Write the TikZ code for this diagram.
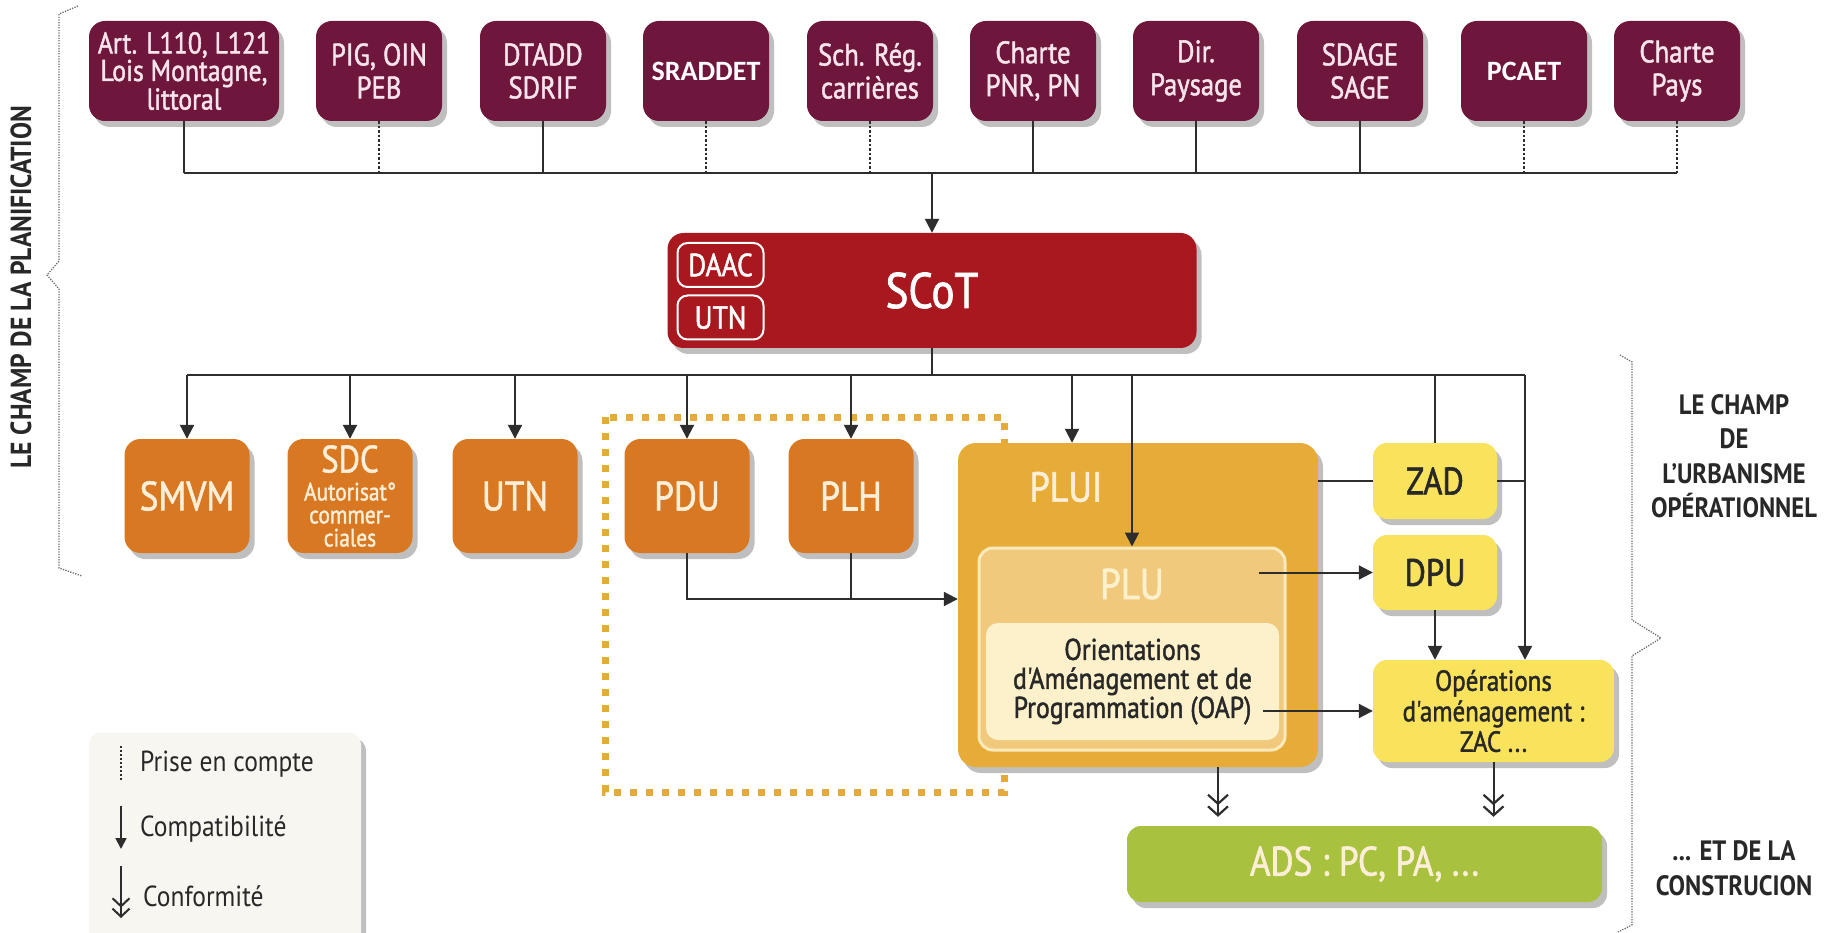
\documentclass[tikz,border=0pt]{standalone}
\usepackage{fontspec}
\setmainfont{PT Sans}[FakeStretch=0.88]
\newfontfamily\med{PT Sans}[FakeStretch=0.86,FakeBold=1.5]
\newfontfamily\calib{Carlito}
\usetikzlibrary{arrows.meta,shadows}
\definecolor{maroon}{RGB}{110,22,60}
\definecolor{toptxt}{RGB}{245,228,235}
\definecolor{scotred}{RGB}{168,24,30}
\definecolor{orng}{RGB}{216,120,34}
\definecolor{orntxt}{RGB}{252,238,215}
\definecolor{goldc}{RGB}{231,172,55}
\definecolor{dotc}{RGB}{228,170,60}
\definecolor{pluc}{RGB}{240,201,125}
\definecolor{oapc}{RGB}{252,241,203}
\definecolor{yel}{RGB}{249,226,92}
\definecolor{grn}{RGB}{168,194,64}
\definecolor{linec}{RGB}{45,45,45}
\definecolor{legbg}{RGB}{248,246,240}
\definecolor{txtdark}{RGB}{40,40,40}
\definecolor{bracec}{RGB}{110,110,110}
\tikzset{
  shd/.style={drop shadow={shadow xshift=5pt,shadow yshift=-6pt,opacity=0.25,fill=black}},
  topbox/.style={shd,fill=maroon,rounded corners=16pt,minimum width=126pt,minimum height=100pt,inner sep=0pt,align=center,text=toptxt,font=\med\fontsize{31}{33}\selectfont},
  ornbox/.style={shd,fill=orng,rounded corners=16pt,minimum width=125pt,minimum height=114pt,inner sep=0pt,align=center,text=orntxt,font=\med\fontsize{41}{42}\selectfont},
  yelbox/.style={shd,fill=yel,rounded corners=14pt,minimum width=124pt,inner sep=0pt,align=center,text=txtdark},
  ln/.style={draw=linec,line width=2pt},
  dsh/.style={draw=linec,line width=2pt,dash pattern=on 2.5pt off 2pt},
  arr/.style={draw=linec,line width=2pt,-{Triangle[length=14pt,width=14pt]}},
  dbl/.style={draw=linec,line width=2pt,-{Straight Barb[length=9pt,width=20pt,line width=2.2pt] Straight Barb[length=9pt,width=20pt,line width=2.2pt]}},
  bracel/.style={draw=bracec,line width=1.3pt,dash pattern=on 1.3pt off 1.3pt},
  sidetxt/.style={align=center,text=txtdark,font=\bfseries\fontsize{28}{34.5}\selectfont},
  legtxt/.style={anchor=west,text=txtdark,font=\fontsize{29}{30}\selectfont,inner sep=0pt}
}
\begin{document}
\begin{tikzpicture}[x=1pt,y=-1pt]
\useasboundingbox (0,0) rectangle (1837,933);
\fill[white] (0,0) rectangle (1837,933);

% dotted frame
\draw[draw=dotc,line width=7pt,dash pattern=on 7pt off 9pt] (605,417) rectangle (1004,792);

% top row
\node[topbox,minimum width=190pt,font=\med\fontsize{30}{27.5}\selectfont] (art) at (184,71) {Art. L110, L121\\Lois Montagne,\\littoral};
\node[topbox] (pig) at (379,71) {PIG, OIN\\PEB};
\node[topbox] (dtadd) at (543,71) {DTADD\\SDRIF};
\node[topbox,text=white,font=\calib\bfseries\fontsize{28}{30}\selectfont] (sraddet) at (706,71) {SRADDET};
\node[topbox] (sch) at (870,71) {Sch. Rég.\\carrières};
\node[topbox] (pnr) at (1033,71) {Charte\\PNR, PN};
\node[topbox] (dir) at (1196,71) {Dir.\\Paysage};
\node[topbox] (sdage) at (1360,71) {SDAGE\\SAGE};
\node[topbox,text=white,font=\calib\bfseries\fontsize{28}{30}\selectfont] (pcaet) at (1524,71) {PCAET};
\node[topbox] (pays) at (1677,71) {Charte\\Pays};

% SCoT
\node[shd,fill=scotred,rounded corners=16pt,minimum width=529pt,minimum height=115pt,inner sep=0pt,text=white,font=\med\fontsize{50}{52}\selectfont] (scot) at (932,290.5) {SCoT};
\node[draw=white,line width=2pt,rounded corners=10pt,minimum width=86pt,minimum height=44pt,inner sep=0pt,text=white,font=\med\fontsize{32}{32}\selectfont] (daac) at (720.5,265) {DAAC};
\node[draw=white,line width=2pt,rounded corners=10pt,minimum width=86pt,minimum height=44pt,inner sep=0pt,text=white,font=\med\fontsize{32}{32}\selectfont] (utns) at (720.5,317.5) {UTN};

% orange row
\node[ornbox] (smvm) at (187,496) {SMVM};
\node[ornbox,font=\med\fontsize{25}{23}\selectfont] (sdc) at (350,496) {{\fontsize{38}{38}\selectfont SDC}\\[5pt]Autorisat°\\commer-\\ciales};
\node[ornbox] (utn) at (515,496) {UTN};
\node[ornbox] (pdu) at (687,496) {PDU};
\node[ornbox] (plh) at (851,496) {PLH};

% PLUI / PLU / OAP
\node[shd,fill=goldc,rounded corners=18pt,minimum width=360pt,minimum height=324pt,inner sep=0pt] (plui) at (1138,605) {};
\node[text=orntxt,font=\med\fontsize{42}{44}\selectfont] (pluitxt) at (1066,487) {PLUI};
\node[fill=pluc,draw=oapc!80!pluc,line width=3pt,rounded corners=14pt,minimum width=306pt,minimum height=202pt,inner sep=0pt] (plu) at (1132,649) {};
\node[text=oapc,font=\med\fontsize{43}{44}\selectfont] (plutxt) at (1132,584) {PLU};
\node[fill=oapc,rounded corners=12pt,minimum width=293pt,minimum height=117pt,inner sep=0pt,align=center,text=txtdark,font=\med\fontsize{30}{29}\selectfont] (oap) at (1132.5,681.5) {Orientations\\d'Aménagement et de\\Programmation (OAP)};

% yellow boxes
\node[yelbox,minimum height=76pt,font=\med\fontsize{38}{38}\selectfont] (zad) at (1435,481) {ZAD};
\node[yelbox,minimum height=75pt,font=\med\fontsize{38}{38}\selectfont] (dpu) at (1435,572.5) {DPU};
\node[yelbox,minimum width=241pt,minimum height=102pt,font=\med\fontsize{29}{30.5}\selectfont] (ops) at (1493.5,711) {Opérations\\d'aménagement :\\ZAC ...};

% ADS
\node[shd,fill=grn,rounded corners=14pt,minimum width=475pt,minimum height=76pt,inner sep=0pt,text=orntxt,font=\med\fontsize{41}{42}\selectfont] (ads) at (1364.5,864) {ADS : PC, PA, ...};

% ---- connectors top
\coordinate (h1) at (0,173);
\draw[ln] (art.south) -- (art.south |- h1);
\draw[dsh] (pig.south) -- (pig.south |- h1);
\draw[ln] (dtadd.south) -- (dtadd.south |- h1);
\draw[dsh] (sraddet.south) -- (sraddet.south |- h1);
\draw[dsh] (sch.south) -- (sch.south |- h1);
\draw[ln] (pnr.south) -- (pnr.south |- h1);
\draw[ln] (dir.south) -- (dir.south |- h1);
\draw[ln] (sdage.south) -- (sdage.south |- h1);
\draw[dsh] (pcaet.south) -- (pcaet.south |- h1);
\draw[dsh] (pays.south) -- (pays.south |- h1);
\draw[ln] (art.south |- h1) -- (pays.south |- h1);
\draw[arr] (scot.north |- h1) -- (scot.north);

% ---- connectors from SCoT
\coordinate (h2) at (0,375);
\coordinate (xplui) at (1072,0);
\coordinate (xops) at (1525,0);
\draw[ln] (scot.south) -- (scot.south |- h2);
\draw[ln] (smvm.north |- h2) -- (xops |- h2);
\draw[arr] (smvm.north |- h2) -- (smvm.north);
\draw[arr] (sdc.north |- h2) -- (sdc.north);
\draw[arr] (utn.north |- h2) -- (utn.north);
\draw[arr] (pdu.north |- h2) -- (pdu.north);
\draw[arr] (plh.north |- h2) -- (plh.north);
\draw[arr] (xplui |- h2) -- (xplui |- plui.north);
\draw[arr] (plu.north |- h2) -- (plu.north);
\draw[ln] (zad.north |- h2) -- (zad.north);
\draw[arr] (xops |- h2) -- (xops |- ops.north);
\draw[ln] (plui.east |- zad.west) -- (zad.west);
\draw[ln] (zad.east) -- (xops |- zad.east);

% PDU / PLH -> PLUI
\coordinate (hp) at (0,599);
\draw[arr] (pdu.south) |- (plui.west |- hp);
\draw[ln] (plh.south) -- (plh.south |- hp);

% PLU -> DPU, OAP -> ops, DPU -> ops
\coordinate (xplu) at (1259,0);
\coordinate (xoap) at (1263,0);
\draw[arr] (xplu |- dpu.west) -- (dpu.west);
\draw[arr] (xoap |- ops.west) -- (ops.west);
\draw[arr] (dpu.south) -- (dpu.south |- ops.north);

% conformite
\coordinate (xc) at (1218,0);
\draw[dbl,shorten >=9pt] (xc |- plui.south) -- (xc |- ads.north);
\draw[dbl,shorten >=9pt] (ops.south) -- (ops.south |- ads.north);

% ---- legend
\node[shd,fill=legbg,rounded corners=12pt,minimum width=272pt,minimum height=215pt,inner sep=0pt] (leg) at (225,840) {};
\coordinate (l1a) at (121,746); \coordinate (l1b) at (121,780);
\coordinate (l2a) at (121,806); \coordinate (l2b) at (121,849);
\coordinate (l3a) at (121,866); \coordinate (l3b) at (121,918);
\draw[draw=linec,line width=1.5pt,dash pattern=on 2pt off 2pt] (l1a) -- (l1b);
\draw[draw=linec,line width=1.8pt,-{Triangle[length=11pt,width=11pt]}] (l2a) -- (l2b);
\draw[draw=linec,line width=1.8pt,-{Straight Barb[length=8pt,width=17pt,line width=2pt] Straight Barb[length=8pt,width=17pt,line width=2pt]}] (l3a) -- (l3b);
\node[legtxt] (t1) at (140,764) {Prise en compte};
\node[legtxt] (t2) at (140,829) {Compatibilité};
\node[legtxt] (t3) at (143,896) {Conformité};

% ---- braces
\draw[bracel] (78,6) -- (59,14) -- (59,261) -- (47,275) -- (59,289) -- (59,568) -- (82,576);
\draw[bracel] (1620,355) -- (1632,362) -- (1632,620) -- (1661,638) -- (1632,656) -- (1632,925) -- (1618,932);

% side texts
\node[sidetxt,rotate=90,font=\bfseries\fontsize{29}{30}\selectfont] (lplan) at (21,287) {LE CHAMP DE LA PLANIFICATION};
\node[sidetxt] (lurb) at (1734,456) {LE CHAMP\\DE\\L'URBANISME\\OPÉRATIONNEL};
\node[sidetxt] (lcons) at (1734,868) {... ET DE LA\\CONSTRUCION};
\end{tikzpicture}
\end{document}
